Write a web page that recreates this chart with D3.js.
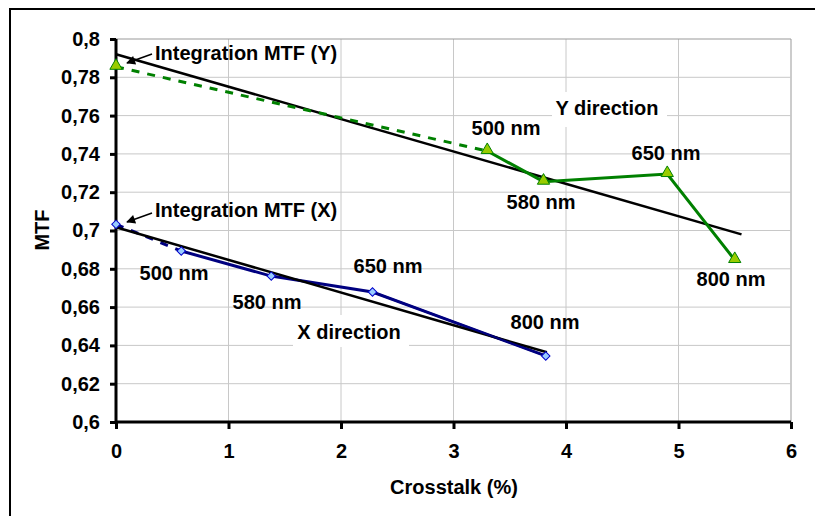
<!DOCTYPE html>
<html>
<head>
<meta charset="utf-8">
<script src="https://cdn.jsdelivr.net/npm/d3@7"></script>
<style>
  html, body { margin: 0; padding: 0; background: #fff; overflow: hidden; }
  svg { display: block; overflow: hidden; }
  text { font-family: "Liberation Sans", Arial, sans-serif; font-weight: bold; fill: #000; }
</style>
</head>
<body>
<svg id="chart" width="815" height="516"></svg>
<script>
// Crosstalk (%) and MTF per wavelength, Y and X directions
const wavelengths = ["", "500 nm", "580 nm", "650 nm", "800 nm"];
const yCrosstalk = [0, 3.30, 3.80, 4.90, 5.50];
const yMTF = [0.7855, 0.7415, 0.7255, 0.7295, 0.6846];
const xCrosstalk = [0, 0.58, 1.38, 2.28, 3.82];
const xMTF = [0.7032, 0.6893, 0.6762, 0.6679, 0.6345];
// linear trend lines (start and end)
const yTrendX = [0, 5.56];
const yTrendV = [0.792, 0.698];
const xTrendX = [0, 3.83];
const xTrendV = [0.7017, 0.6364];
const xTicks = [0, 1, 2, 3, 4, 5, 6];
const yTicks = [0.6, 0.62, 0.64, 0.66, 0.68, 0.7, 0.72, 0.74, 0.76, 0.78, 0.8];

const FS = "20px";
const svg = d3.select("#chart");
const pL = 116, pR = 791, pT = 39, pB = 422;
const x = d3.scaleLinear().domain([0, 6]).range([pL, pR]);
const y = d3.scaleLinear().domain([0.6, 0.8]).range([pB, pT]);
const fmt = v => d3.format(".2~f")(v).replace(".", ",");

// outer frame: left and top edges
svg.append("line").attr("x1", 10).attr("y1", 8).attr("x2", 10).attr("y2", 516)
  .attr("stroke", "#000").attr("stroke-width", 2);
svg.append("line").attr("x1", 9).attr("y1", 9).attr("x2", 815).attr("y2", 9)
  .attr("stroke", "#000").attr("stroke-width", 2);

// arrowhead
svg.append("defs").append("marker").attr("id", "arr")
  .attr("viewBox", "0 0 10 10").attr("refX", 9).attr("refY", 5)
  .attr("markerWidth", 11).attr("markerHeight", 9).attr("markerUnits", "userSpaceOnUse")
  .attr("orient", "auto")
  .append("path").attr("d", "M0,0 L10,5 L0,10 Z").attr("fill", "#000");

// grid
const g = svg.append("g");
g.selectAll(".gx").data(xTicks.slice(1)).join("line")
  .attr("x1", d => x(d)).attr("x2", d => x(d)).attr("y1", pT).attr("y2", pB)
  .attr("stroke", d => d === 6 ? "#999" : "#c8c8c8").attr("stroke-width", 1);
g.selectAll(".gy").data(yTicks.slice(1)).join("line")
  .attr("x1", pL).attr("x2", pR).attr("y1", d => y(d)).attr("y2", d => y(d))
  .attr("stroke", d => d === 0.8 ? "#999" : "#c8c8c8").attr("stroke-width", 1);

// axes
const ax = svg.append("g").attr("transform", `translate(0,${pB})`)
  .call(d3.axisBottom(x).tickValues(xTicks).tickSize(7).tickPadding(15).tickFormat(d => d));
const ay = svg.append("g").attr("transform", `translate(${pL},0)`)
  .call(d3.axisLeft(y).tickValues(yTicks).tickSize(6).tickPadding(10).tickFormat(fmt));
[ax, ay].forEach(a => {
  a.select(".domain").attr("stroke", "#000").attr("stroke-width", 3);
  a.selectAll(".tick line").attr("stroke", "#000").attr("stroke-width", 3);
  a.selectAll(".tick text").style("font-size", FS).style("font-family", "Liberation Sans, Arial, sans-serif")
    .style("font-weight", "bold").attr("fill", "#000");
});
ay.select(".domain").attr("d", `M0,${pT}V${pB}`);
ax.select(".domain").attr("d", `M${pL},0H${pR}`);

// axis titles
svg.append("text").attr("x", 454).attr("y", 494).attr("text-anchor", "middle")
  .style("font-size", FS).text("Crosstalk (%)");
svg.append("text").attr("transform", "translate(49,230) rotate(-90)").attr("text-anchor", "middle")
  .style("font-size", FS).text("MTF");

// direction labels on white boxes
function boxLabel(txt, cx, cy, bx, by, bw, bh) {
  svg.append("rect").attr("x", bx).attr("y", by).attr("width", bw).attr("height", bh).attr("fill", "#fff");
  svg.append("text").attr("x", cx).attr("y", cy).attr("text-anchor", "middle")
    .attr("dominant-baseline", "central").style("font-size", FS).text(txt);
}
boxLabel("Y direction", 607, 108, 552, 92, 115, 35);
boxLabel("X direction", 349, 332, 293, 315, 116, 32);

// trend lines
const line = d3.line().x(d => x(d[0])).y(d => y(d[1]));
svg.append("path").datum(d3.zip(yTrendX, yTrendV)).attr("d", line)
  .attr("fill", "none").attr("stroke", "#000").attr("stroke-width", 2.5);

// series: first segment dashed, remainder solid
function series(xs, vs, color, dash) {
  const pts = d3.zip(xs, vs);
  svg.append("path").datum(pts.slice(0, 2)).attr("d", line).attr("fill", "none")
    .attr("stroke", color).attr("stroke-width", 3).attr("stroke-dasharray", dash);
  svg.append("path").datum(pts.slice(1)).attr("d", line).attr("fill", "none")
    .attr("stroke", color).attr("stroke-width", 3);
}
series(yCrosstalk, yMTF, "#008000", "8,8");
series(xCrosstalk, xMTF, "#000080", "8,8");

svg.append("path").datum(d3.zip(xTrendX, xTrendV)).attr("d", line)
  .attr("fill", "none").attr("stroke", "#000").attr("stroke-width", 2.5);
// blue segment drawn again over the black where they overlap at the end
svg.append("path").datum(d3.zip(xCrosstalk, xMTF).slice(3)).attr("d", line).attr("fill", "none")
  .attr("stroke", "#000080").attr("stroke-width", 2);

// markers
const tri = d3.symbol().type(d3.symbolTriangle).size(65);
svg.selectAll(".ym").data(d3.zip(yCrosstalk, yMTF)).join("path")
  .attr("d", tri).attr("transform", d => `translate(${x(d[0])},${y(d[1]) - 1})`)
  .attr("fill", "#99cc00").attr("stroke", "#008000").attr("stroke-width", 1);
const sq = d3.symbol().type(d3.symbolSquare).size(36);
svg.selectAll(".xm").data(d3.zip(xCrosstalk, xMTF)).join("path")
  .attr("d", sq).attr("transform", d => `translate(${x(d[0])},${y(d[1])}) rotate(45)`)
  .attr("fill", "#99ccff").attr("stroke", "#0000cc").attr("stroke-width", 1);

// wavelength labels
const yLabelPos = [null, [506, 128], [541, 202], [666, 153], [731, 279]];
const xLabelPos = [null, [174, 273], [267, 302], [388, 266], [545, 322]];
wavelengths.forEach((w, i) => {
  if (!w) return;
  svg.append("text").attr("x", yLabelPos[i][0]).attr("y", yLabelPos[i][1])
    .attr("text-anchor", "middle").attr("dominant-baseline", "central").style("font-size", FS).text(w);
  svg.append("text").attr("x", xLabelPos[i][0]).attr("y", xLabelPos[i][1])
    .attr("text-anchor", "middle").attr("dominant-baseline", "central").style("font-size", FS).text(w);
});

// callouts
svg.append("text").attr("x", 155).attr("y", 53).attr("dominant-baseline", "central")
  .style("font-size", FS).text("Integration MTF (Y)");
svg.append("line").attr("x1", 152).attr("y1", 54).attr("x2", 127).attr("y2", 63)
  .attr("stroke", "#000").attr("stroke-width", 1.5).attr("marker-end", "url(#arr)");
svg.append("text").attr("x", 155).attr("y", 210).attr("dominant-baseline", "central")
  .style("font-size", FS).text("Integration MTF (X)");
svg.append("line").attr("x1", 152).attr("y1", 213).attr("x2", 127).attr("y2", 222)
  .attr("stroke", "#000").attr("stroke-width", 1.5).attr("marker-end", "url(#arr)");
</script>
</body>
</html>
